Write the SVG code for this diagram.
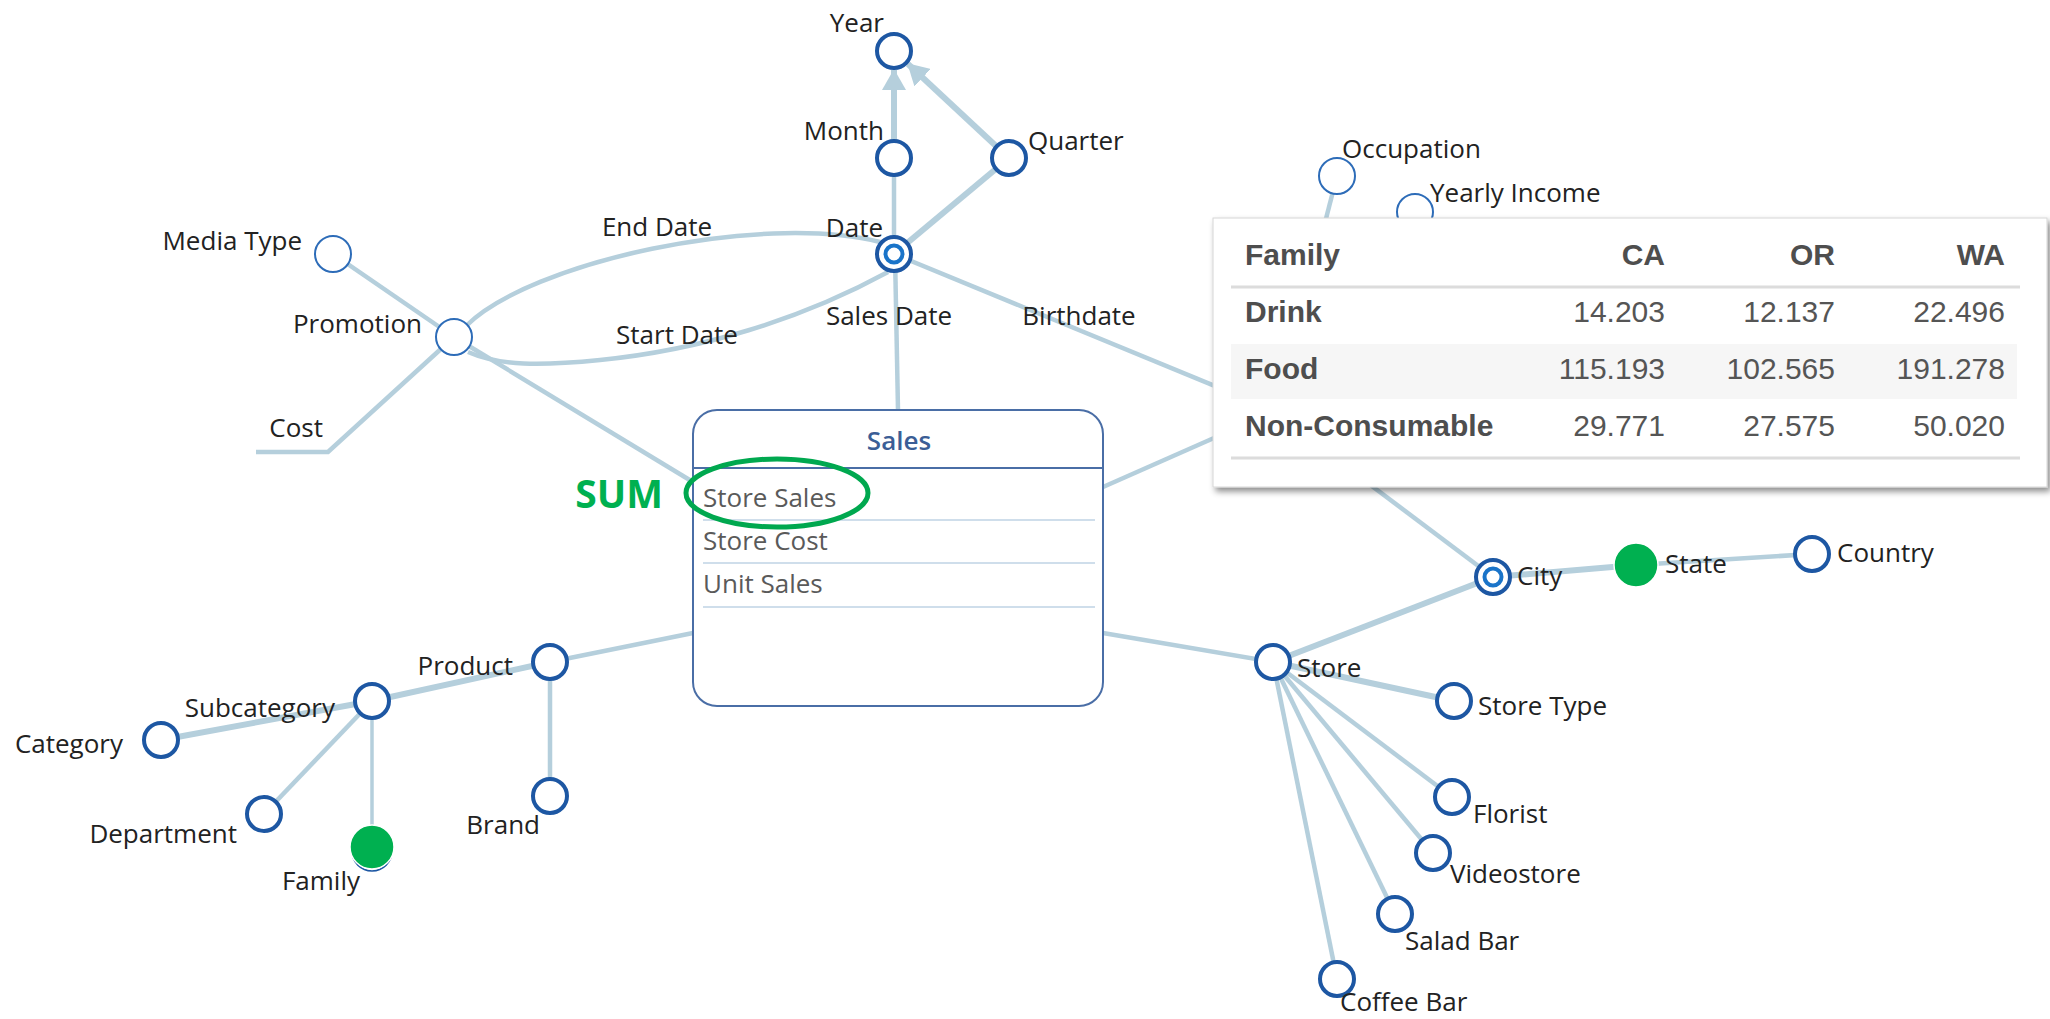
<svg xmlns="http://www.w3.org/2000/svg" width="2050" height="1019" viewBox="0 0 2050 1019">
  <defs>
    <style>
      .edge { fill: none; stroke: #b5cfdc; stroke-linecap: butt; }
      .w3 { stroke-width: 3.5; }
      .w4 { stroke-width: 4.5; }
      .w5 { stroke-width: 6; }
      .lbl { font-family: "Open Sans", "Liberation Sans", sans-serif; font-size: 26px; fill: #222; }
      .mid { text-anchor: middle; }
      .end { text-anchor: end; }
      .node { fill: #fff; stroke: #1d57a3; stroke-width: 4; }
      .node-thin { fill: #fff; stroke: #2d6cb8; stroke-width: 2; }
      .inner { fill: #fff; stroke: #1a74c9; stroke-width: 4; }
      .picked { fill: #00b050; stroke: #fff; stroke-width: 1.5; }
      .measure { font-family: "Open Sans", "Liberation Sans", sans-serif; font-size: 26px; fill: #5a5a5a; }
      .tbl { font-family: "Liberation Sans", Arial, sans-serif; font-size: 30px; fill: #555; }
      .tbl-b { font-weight: bold; fill: #4e4e4e; }
    </style>
    <marker id="arrow" markerUnits="userSpaceOnUse" markerWidth="22" markerHeight="24" refX="20" refY="12" orient="auto">
      <path d="M0,0 L21,12 L0,24 z" fill="#b5cfdc"/>
    </marker>
    <filter id="shadow" x="-5%" y="-10%" width="112%" height="125%">
      <feDropShadow dx="3" dy="4" stdDeviation="3" flood-color="#000" flood-opacity="0.45"/>
    </filter>
  </defs>

  <rect width="2050" height="1019" fill="#fff"/>

  <!-- connectors -->
  <g id="connectors">
    <!-- promotion side -->
    <line class="edge w4" x1="333" y1="254" x2="454" y2="337"/>
    <polyline class="edge w4" points="454,337 328,452 256,452"/>
    <line class="edge w4" x1="454" y1="337" x2="693" y2="482"/>
    <path class="edge w4" d="M466,326 C530,262 760,212 880,242"/>
    <path class="edge w4" d="M468,352 C500,366 540,366 600,360 C700,350 800,320 888,272"/>
    <!-- date hierarchy -->
    <line class="edge w4" x1="895" y1="254" x2="898" y2="410"/>
    <line class="edge w4" x1="894" y1="254" x2="894" y2="158"/>
    <line class="edge w5" x1="894" y1="140" x2="894" y2="70" marker-end="url(#arrow)"/>
    <line class="edge w5" x1="894" y1="254" x2="1009" y2="158"/>
    <line class="edge w5" x1="996" y1="146" x2="908" y2="64" marker-end="url(#arrow)"/>
    <!-- customer (behind the popup) -->
    <line class="edge w4" x1="894" y1="254" x2="1300" y2="421"/>
    <line class="edge w4" x1="1103" y1="487" x2="1300" y2="400"/>
    <line class="edge w4" x1="1337" y1="176" x2="1305" y2="300"/>
    <line class="edge w4" x1="1493" y1="577" x2="1300" y2="432"/>
    <!-- store side -->
    <line class="edge w4" x1="1103" y1="633" x2="1273" y2="662"/>
    <line class="edge w5" x1="1273" y1="662" x2="1493" y2="577"/>
    <line class="edge w5" x1="1493" y1="577" x2="1636" y2="565"/>
    <line class="edge w4" x1="1636" y1="565" x2="1812" y2="554"/>
    <line class="edge w5" x1="1273" y1="662" x2="1454" y2="701"/>
    <line class="edge w4" x1="1273" y1="662" x2="1452" y2="797"/>
    <line class="edge w4" x1="1273" y1="662" x2="1433" y2="853"/>
    <line class="edge w4" x1="1273" y1="662" x2="1395" y2="914"/>
    <line class="edge w4" x1="1273" y1="662" x2="1337" y2="979"/>
    <!-- product side -->
    <line class="edge w4" x1="693" y1="633" x2="550" y2="662"/>
    <line class="edge w5" x1="550" y1="662" x2="372" y2="701"/>
    <line class="edge w5" x1="372" y1="701" x2="161" y2="740"/>
    <line class="edge w4" x1="372" y1="701" x2="264" y2="814"/>
    <line class="edge w3" x1="372" y1="701" x2="372" y2="847"/>
    <line class="edge w4" x1="550" y1="662" x2="550" y2="796"/>
  </g>

  <!-- edge labels -->
  <g id="edge-labels">
    <text class="lbl mid" x="657" y="236">End Date</text>
    <text class="lbl mid" x="677" y="344">Start Date</text>
    <text class="lbl mid" x="889" y="325">Sales Date</text>
    <text class="lbl mid" x="1079" y="325">Birthdate</text>
  </g>

  <!-- nodes -->
  <g id="node-media-type">
    <circle class="node-thin" cx="333" cy="254" r="18"/>
    <text class="lbl end" x="302" y="250">Media Type</text>
  </g>
  <g id="node-promotion">
    <circle class="node-thin" cx="454" cy="337" r="18"/>
    <text class="lbl end" x="422" y="333">Promotion</text>
  </g>
  <g id="node-cost">
    <text class="lbl end" x="323" y="437">Cost</text>
  </g>
  <g id="node-year">
    <circle class="node" cx="894" cy="51" r="17"/>
    <text class="lbl end" x="884" y="32">Year</text>
  </g>
  <g id="node-month">
    <circle class="node" cx="894" cy="158" r="17"/>
    <text class="lbl end" x="884" y="140">Month</text>
  </g>
  <g id="node-quarter">
    <circle class="node" cx="1009" cy="158" r="17"/>
    <text class="lbl" x="1028" y="150">Quarter</text>
  </g>
  <g id="node-date">
    <circle class="node" cx="894" cy="254" r="17"/>
    <circle class="inner" cx="894" cy="254" r="8.5"/>
    <text class="lbl end" x="883" y="237">Date</text>
  </g>
  <g id="node-occupation">
    <circle class="node-thin" cx="1337" cy="176" r="18"/>
    <text class="lbl" x="1342" y="158">Occupation</text>
  </g>
  <g id="node-yearly-income">
    <circle class="node-thin" cx="1415" cy="212" r="18"/>
    <text class="lbl" x="1430" y="202">Yearly Income</text>
  </g>

  <g id="node-sales">
    <rect x="693" y="410" width="410" height="296" rx="24" ry="24" fill="#fff" stroke="#4a6ea6" stroke-width="2"/>
    <line x1="693" y1="468" x2="1103" y2="468" stroke="#4a6ea6" stroke-width="2"/>
    <text class="lbl mid" x="899" y="450" style="fill:#3b5e96; font-weight:600">Sales</text>
    <text class="measure" x="703" y="507">Store Sales</text>
    <line x1="703" y1="520" x2="1095" y2="520" stroke="#cfdeeb" stroke-width="2"/>
    <text class="measure" x="703" y="550">Store Cost</text>
    <line x1="703" y1="563" x2="1095" y2="563" stroke="#cfdeeb" stroke-width="2"/>
    <text class="measure" x="703" y="593">Unit Sales</text>
    <line x1="703" y1="607" x2="1095" y2="607" stroke="#cfdeeb" stroke-width="2"/>
    <ellipse cx="777" cy="493" rx="91" ry="34" fill="none" stroke="#00a84f" stroke-width="5"/>
    <text x="663" y="508" text-anchor="end" font-family="'Open Sans', 'Liberation Sans', sans-serif" font-size="39" font-weight="bold" fill="#00b050">SUM</text>
  </g>

  <g id="node-product">
    <circle class="node" cx="550" cy="662" r="17"/>
    <text class="lbl end" x="513" y="675">Product</text>
  </g>
  <g id="node-subcategory">
    <circle class="node" cx="372" cy="701" r="17"/>
    <text class="lbl end" x="335" y="717">Subcategory</text>
  </g>
  <g id="node-category">
    <circle class="node" cx="161" cy="740" r="17"/>
    <text class="lbl end" x="123" y="753">Category</text>
  </g>
  <g id="node-department">
    <circle class="node" cx="264" cy="814" r="17"/>
    <text class="lbl end" x="237" y="843">Department</text>
  </g>
  <g id="node-family">
    <circle cx="372" cy="851" r="20" fill="none" stroke="#1d57a3" stroke-width="1.5"/>
    <circle class="picked" cx="372" cy="847" r="22"/>
    <text class="lbl end" x="360" y="890">Family</text>
  </g>
  <g id="node-brand">
    <circle class="node" cx="550" cy="796" r="17"/>
    <text class="lbl end" x="540" y="834">Brand</text>
  </g>

  <g id="node-store">
    <circle class="node" cx="1273" cy="662" r="17"/>
    <text class="lbl" x="1297" y="677">Store</text>
  </g>
  <g id="node-city">
    <circle class="node" cx="1493" cy="577" r="17"/>
    <circle class="inner" cx="1493" cy="577" r="8.5"/>
    <text class="lbl" x="1517" y="585">City</text>
  </g>
  <g id="node-state">
    <circle class="picked" cx="1636" cy="565" r="22"/>
    <text class="lbl" x="1665" y="573">State</text>
  </g>
  <g id="node-country">
    <circle class="node" cx="1812" cy="554" r="17"/>
    <text class="lbl" x="1837" y="562">Country</text>
  </g>
  <g id="node-store-type">
    <circle class="node" cx="1454" cy="701" r="17"/>
    <text class="lbl" x="1478" y="715">Store Type</text>
  </g>
  <g id="node-florist">
    <circle class="node" cx="1452" cy="797" r="17"/>
    <text class="lbl" x="1473" y="823">Florist</text>
  </g>
  <g id="node-videostore">
    <circle class="node" cx="1433" cy="853" r="17"/>
    <text class="lbl" x="1450" y="883">Videostore</text>
  </g>
  <g id="node-salad-bar">
    <circle class="node" cx="1395" cy="914" r="17"/>
    <text class="lbl" x="1405" y="950">Salad Bar</text>
  </g>
  <g id="node-coffee-bar">
    <circle class="node" cx="1337" cy="979" r="17"/>
    <text class="lbl" x="1340" y="1011">Coffee Bar</text>
  </g>

  <!-- pivot popup -->
  <g id="popup-table">
    <rect x="1213" y="218" width="834" height="269" fill="#fff" stroke="#d6d6d6" stroke-width="1" filter="url(#shadow)"/>
    <rect x="1231" y="344" width="786" height="55" fill="#f6f6f6"/>
    <line x1="1231" y1="287" x2="2020" y2="287" stroke="#dcdcdc" stroke-width="3"/>
    <line x1="1231" y1="458" x2="2020" y2="458" stroke="#dcdcdc" stroke-width="3"/>
    <text class="tbl tbl-b" x="1245" y="265">Family</text>
    <text class="tbl tbl-b" x="1665" y="265" text-anchor="end">CA</text>
    <text class="tbl tbl-b" x="1835" y="265" text-anchor="end">OR</text>
    <text class="tbl tbl-b" x="2005" y="265" text-anchor="end">WA</text>
    <text class="tbl tbl-b" x="1245" y="322">Drink</text>
    <text class="tbl" x="1665" y="322" text-anchor="end">14.203</text>
    <text class="tbl" x="1835" y="322" text-anchor="end">12.137</text>
    <text class="tbl" x="2005" y="322" text-anchor="end">22.496</text>
    <text class="tbl tbl-b" x="1245" y="379">Food</text>
    <text class="tbl" x="1665" y="379" text-anchor="end">115.193</text>
    <text class="tbl" x="1835" y="379" text-anchor="end">102.565</text>
    <text class="tbl" x="2005" y="379" text-anchor="end">191.278</text>
    <text class="tbl tbl-b" x="1245" y="436">Non-Consumable</text>
    <text class="tbl" x="1665" y="436" text-anchor="end">29.771</text>
    <text class="tbl" x="1835" y="436" text-anchor="end">27.575</text>
    <text class="tbl" x="2005" y="436" text-anchor="end">50.020</text>
  </g>
</svg>
